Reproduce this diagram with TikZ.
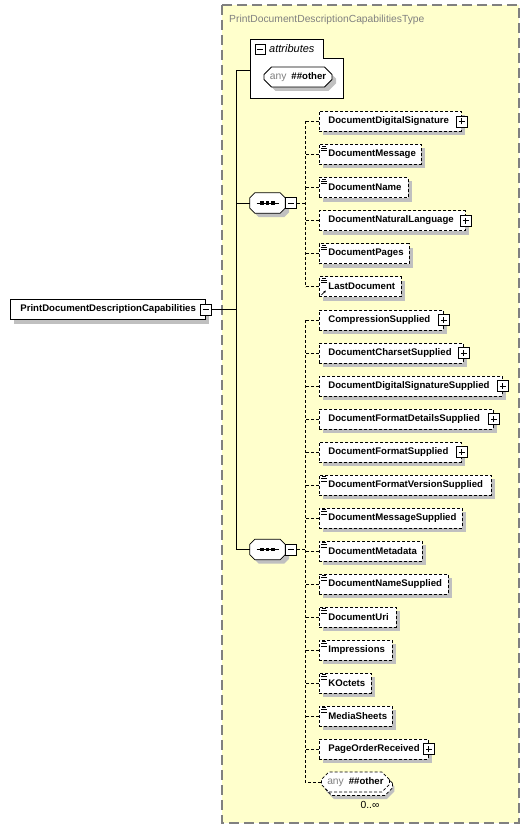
\documentclass[tikz,border=0pt]{standalone}
\usepackage{fontspec}
\setmainfont{Liberation Sans}
\usetikzlibrary{shapes.misc,arrows.meta}
\definecolor{ybg}{RGB}{255,255,204}
\definecolor{shd}{RGB}{192,192,192}
\definecolor{gtxt}{RGB}{128,128,128}
\definecolor{gline}{RGB}{128,128,128}
\newcommand\nmfont{\fontsize{9.6}{11}\selectfont\bfseries}
\newcommand\rgfont{\fontsize{10.3}{12}\selectfont}
\begin{document}
\begin{tikzpicture}[x=1pt,y=-1pt,
  ln/.style={line width=0.8pt},
  dsh/.style={dash pattern=on 3pt off 2pt},
  shad/.style={preaction={draw=none,fill=shd,transform canvas={shift={(4pt,-4pt)}}}},
  el/.style={draw,dsh,line width=0.8pt,fill=white,shad,anchor=west,minimum height=20pt,inner xsep=9pt,inner ysep=0pt,text width=#1pt,align=left,font=\nmfont},
  simp/.style={path picture={
    \draw[solid,line width=0.7pt] ([xshift=3pt,yshift=-1.5pt]path picture bounding box.north west) -- ++(4pt,0pt);
    \draw[solid,line width=0.7pt] ([xshift=2pt,yshift=-3.8pt]path picture bounding box.north west) -- ++(5.5pt,0pt);
    \draw[solid,line width=0.7pt] ([xshift=2pt,yshift=-6.1pt]path picture bounding box.north west) -- ++(5.5pt,0pt);}},
  pm/.style={draw,solid,fill=white,line width=0.9pt,minimum size=11pt,inner sep=0pt},
  plusb/.style={pm,path picture={\draw[solid,line width=0.9pt]
    ([xshift=-3pt]path picture bounding box.center) -- ([xshift=3pt]path picture bounding box.center)
    ([yshift=-3pt]path picture bounding box.center) -- ([yshift=3pt]path picture bounding box.center);}},
  minusb/.style={pm,path picture={\draw[solid,line width=0.9pt]
    ([xshift=-3pt]path picture bounding box.center) -- ([xshift=3pt]path picture bounding box.center);}},
  seqn/.style={rectangle,minimum width=35pt,minimum height=20pt,inner sep=0pt},
  anyn/.style={chamfered rectangle,chamfered rectangle xsep=4pt,draw,fill=white,line width=0.8pt,
    minimum width=68pt,minimum height=20pt,inner sep=0pt},
]
\useasboundingbox (0,0) rectangle (530,829);
% type box
\draw[fill=ybg,draw=gline,line width=1.2pt,dash pattern=on 10pt off 5pt] (222,5) rectangle (519,823);
\node[anchor=west,inner sep=0pt,font=\rgfont,text=gtxt] (title) at (229,20) {PrintDocumentDescriptionCapabilitiesType};
% attributes
\draw[fill=white,line width=0.8pt] (250,39) -- (323,39) -- (323,58) -- (343,58) -- (343,98) -- (250,98) -- cycle;
\node[minusb,minimum size=10pt] (attrm) at (260,49) {};
\node[anchor=west,inner sep=0pt,font=\fontsize{11}{13}\selectfont\itshape] (attrt) at (269,48.5) {attributes};
\node[anyn,solid,shad] (attrany) at (298,77) {{\rgfont\color{gtxt}any}\hspace{5pt}{\nmfont\#\#other}};
\coordinate (attrw) at (250,70);
% root element
\node[draw,line width=0.8pt,fill=white,shad,anchor=west,minimum height=20pt,inner xsep=10pt,inner ysep=0pt,text width=175pt,align=left,font=\nmfont] (main) at (10,309.5) {PrintDocumentDescriptionCapabilities};
\node[minusb] (mainm) at (main.east) {};
\coordinate (j) at (236,309.5);
\draw[ln] (mainm.east) -- (j);
% sequences
\node[seqn] (s1) at (267.5,203) {};
\node[seqn] (s2) at (267.5,549.5) {};
\foreach \s in {s1,s2}{
  \fill[shd,transform canvas={shift={(4pt,-4pt)}}]
    ([xshift=5pt]\s.north west) -- ([xshift=-5pt]\s.north east) -- ([yshift=-5pt]\s.north east)
    -- ([yshift=5pt]\s.south east) -- ([xshift=-5pt]\s.south east) -- ([xshift=5pt]\s.south west)
    -- ([yshift=5pt]\s.south west) -- ([yshift=-5pt]\s.north west) -- cycle;
  \draw[fill=white,line width=0.8pt]
    ([xshift=5pt]\s.north west) -- ([xshift=-5pt]\s.north east) -- ([yshift=-5pt]\s.north east)
    -- ([yshift=5pt]\s.south east) -- ([xshift=-5pt]\s.south east) -- ([xshift=5pt]\s.south west)
    -- ([yshift=5pt]\s.south west) -- ([yshift=-5pt]\s.north west) -- cycle;
  \draw[solid,line width=0.8pt] ([xshift=-11pt]\s.center) -- ([xshift=11pt]\s.center);
  \foreach \dx in {-5.5,0,5.5}
    \fill ([xshift=\dx pt-1.6pt,yshift=-1.6pt]\s.center) rectangle ([xshift=\dx pt+1.6pt,yshift=1.6pt]\s.center);
}
\node[minusb,anchor=west] (s1m) at (s1.east) {};
\node[minusb,anchor=west] (s2m) at (s2.east) {};
\draw[ln] (attrw) -| (j);
\draw[ln] (s1.west) -| (j);
\draw[ln] (s2.west) -| (j);
% first group
\node[el=124] (a0) at (319,121.5) {DocumentDigitalSignature};
\node[plusb] at (a0.east) {};
\node[el=84,simp] (a1) at (319,154.5) {DocumentMessage};
\node[el=71,simp] (a2) at (319,187.5) {DocumentName};
\node[el=128] (a3) at (319,220.5) {DocumentNaturalLanguage};
\node[plusb] at (a3.east) {};
\node[el=72,simp] (a4) at (319,253.5) {DocumentPages};
\node[el=64,simp] (a5) at (319,286.5) {LastDocument};
\draw[solid,line width=0.8pt,-{Latex[length=2.5pt,width=2.5pt]}] ([xshift=2.5pt,yshift=2pt]a5.south west) -- ++(4.5pt,4.5pt);
\coordinate (s1j) at (305,203);
\draw[ln,dsh] (s1m.east) -- (s1j);
\draw[ln,dsh] (a0.west -| s1j) -- (a5.west -| s1j);
\foreach \n in {a0,a1,a2,a3,a4,a5} \draw[ln,dsh] (\n.west) -- (\n.west -| s1j);
% second group
\node[el=106] (b0) at (319,320) {CompressionSupplied};
\node[plusb] at (b0.east) {};
\node[el=126] (b1) at (319,353) {DocumentCharsetSupplied};
\node[plusb] at (b1.east) {};
\node[el=165] (b2) at (319,386) {DocumentDigitalSignatureSupplied};
\node[plusb] at (b2.east) {};
\node[el=156] (b3) at (319,419) {DocumentFormatDetailsSupplied};
\node[plusb] at (b3.east) {};
\node[el=124] (b4) at (319,452) {DocumentFormatSupplied};
\node[plusb] at (b4.east) {};
\node[el=154,simp] (b5) at (319,485) {DocumentFormatVersionSupplied};
\node[el=125,simp] (b6) at (319,518) {DocumentMessageSupplied};
\node[el=85,simp] (b7) at (319,551) {DocumentMetadata};
\node[el=111,simp] (b8) at (319,584) {DocumentNameSupplied};
\node[el=59,simp] (b9) at (319,617) {DocumentUri};
\node[el=55,simp] (b10) at (319,650) {Impressions};
\node[el=34,simp] (b11) at (319,683) {KOctets};
\node[el=55,simp] (b12) at (319,716) {MediaSheets};
\node[el=91] (b13) at (319,749) {PageOrderReceived};
\node[plusb] at (b13.east) {};
\node[anyn,dsh,anchor=west,
  preaction={draw=none,fill=shd,transform canvas={shift={(5pt,-7pt)}}},
  preaction={draw,dsh,fill=white,transform canvas={shift={(3pt,-3.5pt)}}}] (b14) at (321,782) {{\rgfont\color{gtxt}any}\hspace{5pt}{\nmfont\#\#other}};
\node[font=\rgfont,inner sep=0pt] (occ) at (370,805) {0..∞};
\coordinate (s2j) at (305,549.5);
\draw[ln,dsh] (s2m.east) -- (s2j);
\draw[ln,dsh] (b0.west -| s2j) -- (b14.west -| s2j);
\foreach \n in {b0,b1,b2,b3,b4,b5,b6,b7,b8,b9,b10,b11,b12,b13,b14} \draw[ln,dsh] (\n.west) -- (\n.west -| s2j);
\end{tikzpicture}
\end{document}
